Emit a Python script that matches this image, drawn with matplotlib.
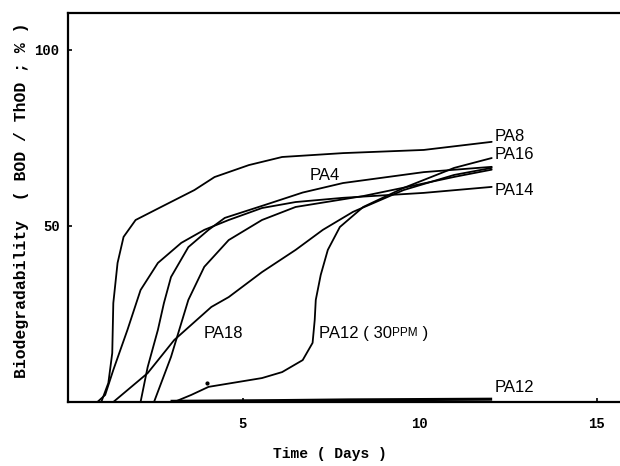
import matplotlib
matplotlib.use("Agg")
import matplotlib.pyplot as plt

# ---- data (days, % BOD/ThOD) ----
pa8_x = [1.0, 1.2, 1.31, 1.34, 1.46, 1.63, 1.97, 2.69, 3.63, 4.2, 5.17, 6.11, 7.83, 10.11, 12.03]
pa8_y = [0, 5.4, 13.9, 28.1, 39.5, 46.9, 51.7, 55.4, 60.2, 63.9, 67.3, 69.6, 70.7, 71.6, 73.9]

pa14_x = [0.89, 1.11, 1.34, 1.74, 2.11, 2.6, 3.26, 3.91, 4.6, 5.54, 6.49, 7.83, 10.11, 12.03]
pa14_y = [0, 2.0, 9.1, 20.5, 31.8, 39.5, 45.2, 48.9, 51.7, 55.1, 56.8, 58.0, 59.4, 61.1]

pa4_x = [2.11, 2.31, 2.6, 2.77, 2.97, 3.46, 4.03, 4.49, 5.63, 6.69, 7.83, 10.11, 12.03]
pa4_y = [0, 9.9, 20.5, 28.1, 35.5, 44.0, 48.9, 52.3, 56.0, 59.5, 62.2, 65.3, 66.8]

pa16_x = [2.49, 2.97, 3.46, 3.91, 4.6, 5.54, 6.49, 8.4, 9.6, 11.0, 12.03]
pa16_y = [0, 12.8, 29.0, 38.4, 46.0, 51.7, 55.4, 58.5, 61.0, 64.0, 66.0]

pa18_x = [1.34, 2.31, 3.06, 4.11, 4.6, 5.54, 6.49, 7.26, 8.11, 9.54, 10.97, 12.03]
pa18_y = [0, 8.2, 17.6, 27.0, 29.8, 36.9, 43.2, 48.9, 54.0, 60.2, 64.5, 66.5]

pa12_30_x = [3.06, 3.54, 4.03, 5.54, 6.11, 6.69, 6.97, 7.03, 7.06, 7.2, 7.4, 7.74, 8.4, 9.54, 10.97, 12.03]
pa12_30_y = [0, 2.0, 4.3, 6.8, 8.5, 11.9, 16.8, 23.3, 29.0, 36.1, 43.2, 49.7, 55.4, 60.8, 66.5, 69.3]

pa12_x = [3.0, 6.0, 8.0, 10.0, 12.0]
pa12_y = [0.2, 0.4, 0.6, 0.7, 0.8]

x_ticks = [5, 10, 15]
y_ticks = [50, 100]

fig = plt.figure(figsize=(6.2, 4.66), dpi=100)
ax = fig.add_axes([68/620, (466-402)/466, 1 - 68/620 + 0.01, (402-13)/466])
ax.set_xlim(0.06, 15.83)
ax.set_ylim(0, 110.5)

lw = 1.3
for xs, ys in [(pa8_x, pa8_y), (pa14_x, pa14_y), (pa4_x, pa4_y), (pa16_x, pa16_y),
               (pa18_x, pa18_y), (pa12_30_x, pa12_30_y)]:
    ax.plot(xs, ys, color='black', lw=lw, solid_capstyle='round', solid_joinstyle='round')
ax.plot(pa12_x, pa12_y, color='black', lw=2.2)
ax.plot([3.98], [5.4], marker='o', ms=2, color='black')

for s in ['left', 'top', 'bottom']:
    ax.spines[s].set_linewidth(1.6)
ax.spines['right'].set_visible(False)

ax.set_xticks(x_ticks)
ax.set_yticks(y_ticks)
ax.tick_params(direction='in', length=3, width=1.2)
ax.tick_params(axis='x', pad=11)
ax.tick_params(axis='y', pad=6)
for lab in ax.get_xticklabels() + ax.get_yticklabels():
    lab.set_fontfamily('Liberation Mono'); lab.set_fontweight('bold'); lab.set_fontsize(10)

ax.set_xlabel('Time ( Days )', family='Liberation Mono', weight='bold', size=10.5, va='center')
ax.xaxis.set_label_coords(0.469, -0.134)
ax.set_ylabel('Biodegradability  ( BOD / ThOD ; % )', family='Liberation Mono', weight='bold',
              size=11.8, va='center')
ax.yaxis.set_label_coords(-0.083, 0.519)

fam = ['Liberation Sans', 'DejaVu Sans']
lab_font = dict(family=fam, size=12)
ax.text(12.11, 75.3, 'PA8', va='center', ha='left', **lab_font)
ax.text(12.11, 70.2, 'PA16', va='center', ha='left', **lab_font)
ax.text(12.11, 60.2, 'PA14', va='center', ha='left', **lab_font)
ax.text(12.11, 4.0, 'PA12', va='center', ha='left', **lab_font)
ax.text(6.89, 64.2, 'PA4', va='center', ha='left', **lab_font)
ax.text(3.89, 19.6, 'PA18', va='center', ha='left', **lab_font)
t1 = ax.text(7.14, 19.6, 'PA12 ( 30', va='center', ha='left', **lab_font)
t2 = ax.annotate('PPM', xy=(1, 0), xycoords=t1, xytext=(0.5, 1.0), textcoords='offset points',
                 va='bottom', ha='left', family=fam, size=8.5)
ax.annotate(' )', xy=(1, 0), xycoords=t2, xytext=(0, -1.0), textcoords='offset points',
            va='bottom', ha='left', family=fam, size=12)

fig.savefig('out.png', dpi=100)
